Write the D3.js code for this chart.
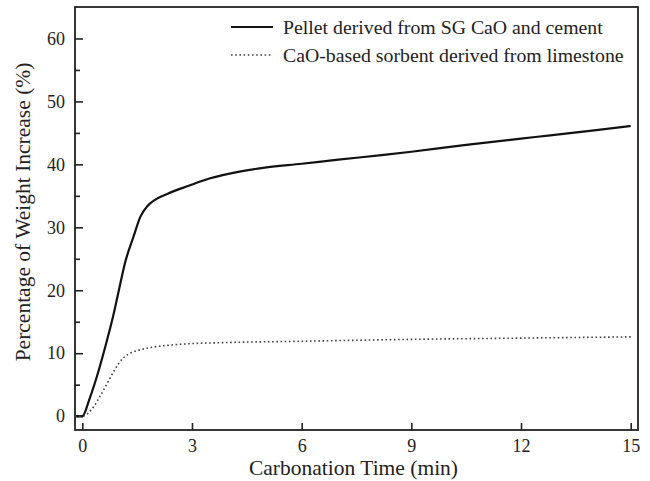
<!DOCTYPE html>
<html>
<head>
<meta charset="utf-8">
<script src="https://cdn.jsdelivr.net/npm/d3@7"></script>
<style>
  body { margin: 0; background: #fff; }
</style>
</head>
<body>
<div id="chart"></div>
<script>
var svgWidth = 650;
var svgHeight = 481;
var serif = "'Liberation Serif', 'Times New Roman', Times, serif";

var margin = { top: 7, right: 12, bottom: 51, left: 75 };
var width = svgWidth - margin.left - margin.right;
var height = svgHeight - margin.top - margin.bottom;

// series (time in min, weight increase in %)
var pelletTime = [-0.2, 0, 0.2, 0.45, 0.65, 0.86, 1.0, 1.18, 1.4, 1.59, 1.77, 2.0, 2.32, 2.91, 3.5, 4.0, 4.9, 6.0, 7.0, 8.25, 9.0, 10.5, 12.0, 12.8, 14.0, 15.0];
var pelletValue = [0, 0, 2.8, 7.3, 11.5, 16.3, 20.0, 24.6, 28.5, 31.7, 33.3, 34.4, 35.3, 36.6, 37.8, 38.5, 39.4, 40.1, 40.75, 41.5, 42.0, 43.1, 44.1, 44.6, 45.4, 46.1];

var limeTime = [-0.2, 0, 0.31, 0.5, 0.68, 0.85, 1.0, 1.15, 1.31, 1.5, 1.77, 2.1, 2.41, 2.91, 4.0, 6.0, 9.0, 12.0, 15.0];
var limeValue = [0, 0, 1.5, 3.3, 5.2, 7.0, 8.4, 9.4, 10.0, 10.4, 10.8, 11.1, 11.3, 11.5, 11.7, 11.9, 12.2, 12.4, 12.6];

var seriesNames = ["Pellet derived from SG CaO and cement", "CaO-based sorbent derived from limestone"];

var xTicks = [0, 3, 6, 9, 12, 15];
var yTicks = [0, 10, 20, 30, 40, 50, 60];
var yMinorTicks = [5, 15, 25, 35, 45, 55];

var svg = d3.select("#chart")
    .append("svg")
    .attr("width", svgWidth)
    .attr("height", svgHeight);

var chartGroup = svg.append("g")
    .attr("transform", `translate(${margin.left}, ${margin.top})`);

var x = d3.scaleLinear().domain([-0.2, 15.2]).range([0, width]);
var y = d3.scaleLinear().domain([-2.2, 65]).range([height, 0]);

// axes, ticks pointing inward
var bottomAxis = d3.axisBottom(x).tickValues(xTicks).tickSizeInner(-7).tickSizeOuter(0).tickPadding(9);
var leftAxis = d3.axisLeft(y).tickValues(yTicks).tickSizeInner(-8).tickSizeOuter(0).tickPadding(10);
var leftMinor = d3.axisLeft(y).tickValues(yMinorTicks).tickSizeInner(-5).tickSizeOuter(0).tickFormat("");

var xAxis = chartGroup.append("g")
    .attr("transform", `translate(0, ${height})`)
    .call(bottomAxis);

var yAxis = chartGroup.append("g").call(leftAxis);
var yMin = chartGroup.append("g").call(leftMinor);

[xAxis, yAxis, yMin].forEach(function (g) {
    g.select(".domain").remove();
    g.attr("font-family", serif).attr("font-size", 18);
    g.selectAll(".tick line").attr("stroke", "#222").attr("stroke-width", 1.6);
    g.selectAll(".tick text")
        .style("font-family", serif)
        .style("font-size", "18px")
        .attr("fill", "#222");
});

// frame
chartGroup.append("rect")
    .attr("x", 0)
    .attr("y", 0)
    .attr("width", width)
    .attr("height", height)
    .attr("fill", "none")
    .attr("stroke", "#222")
    .attr("stroke-width", 1.8);

var line = d3.line()
    .x(d => x(d[0]))
    .y(d => y(d[1]))
    .curve(d3.curveMonotoneX);

chartGroup.append("path")
    .datum(d3.zip(pelletTime, pelletValue))
    .attr("d", line)
    .attr("fill", "none")
    .attr("stroke", "#111")
    .attr("stroke-width", 2.2);

chartGroup.append("path")
    .datum(d3.zip(limeTime, limeValue))
    .attr("d", line)
    .attr("fill", "none")
    .attr("stroke", "#444")
    .attr("stroke-width", 1.6)
    .attr("stroke-dasharray", "1.6,2.6");

// legend
var legend = chartGroup.append("g").attr("transform", "translate(156, 20)");

legend.append("line")
    .attr("x1", 0).attr("x2", 42).attr("y1", 0).attr("y2", 0)
    .attr("stroke", "#111").attr("stroke-width", 2.2);
legend.append("line")
    .attr("x1", 0).attr("x2", 42).attr("y1", 28).attr("y2", 28)
    .attr("stroke", "#444").attr("stroke-width", 1.6).attr("stroke-dasharray", "1.6,2.6");

legend.selectAll("text.leg")
    .data(seriesNames)
    .enter()
    .append("text")
    .attr("class", "leg")
    .attr("x", 52)
    .attr("y", (d, i) => i * 28)
    .attr("dy", "0.35em")
    .attr("fill", "#222")
    .style("font-family", serif)
    .style("font-size", "19.8px")
    .text(d => d);

// axis titles
chartGroup.append("text")
    .attr("x", width / 2 - 3)
    .attr("y", height + 45)
    .attr("text-anchor", "middle")
    .attr("fill", "#222")
    .style("font-family", serif)
    .style("font-size", "21.5px")
    .text("Carbonation Time (min)");

chartGroup.append("text")
    .attr("transform", "rotate(-90)")
    .attr("x", -205)
    .attr("y", -45)
    .attr("text-anchor", "middle")
    .attr("fill", "#222")
    .style("font-family", serif)
    .style("font-size", "21.5px")
    .text("Percentage of Weight Increase (%)");
</script>
</body>
</html>
